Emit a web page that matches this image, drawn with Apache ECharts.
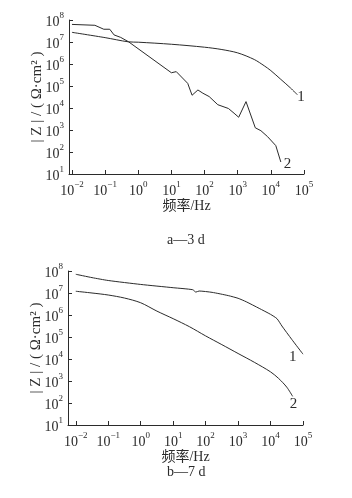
<!DOCTYPE html>
<html>
<head>
<meta charset="utf-8">
<title>|Z| - 频率</title>
<script src="https://cdn.jsdelivr.net/npm/echarts@6/dist/echarts.min.js"></script>
</head>
<body style="margin:0">
<div id="main" style="width:352px;height:498px;"></div>
<script type="text/javascript">
// a—3 d，曲线 1
var freqA1 = [0.01, 0.1, 0.5, 1, 10, 100, 316, 1000, 3160, 6300, 1e4, 2e4, 4e4, 6.3e4];
var zA1 = [2.75e7, 1.58e7, 1.02e7, 9.8e6, 7.9e6, 5.8e6, 4.6e6, 3.2e6, 1.6e6, 8.3e5, 5.0e5, 2.0e5, 7.9e4, 4.0e4];
// a—3 d，曲线 2
var freqA2 = [0.01, 0.049, 0.091, 0.138, 0.186, 0.295, 0.51, 10, 14, 31, 42, 63, 89, 138, 251, 525, 776, 1070, 1780, 3390, 5010, 7940, 1.41e4, 2.0e4];
var zA2 = [6.3e7, 5.75e7, 3.8e7, 3.8e7, 2.1e7, 1.62e7, 1.02e7, 4.0e5, 4.5e5, 1.32e5, 3.8e4, 6.6e4, 4.7e4, 3.3e4, 1.41e4, 9.5e3, 5.8e3, 3.8e3, 1.95e4, 1.26e3, 930, 500, 195, 35];
// b—7 d，曲线 1
var freqB1 = [0.01, 0.0316, 0.1, 1, 10, 40, 50, 63, 158, 500, 1000, 1780, 4470, 1e4, 1.58e4, 2.24e4, 4.47e4, 1e5];
var zB1 = [7.1e7, 5.0e7, 3.7e7, 2.45e7, 1.74e7, 1.41e7, 1.1e7, 1.23e7, 1.07e7, 7.6e6, 5.75e6, 4.0e6, 2.0e6, 1.07e6, 6.8e5, 3.16e5, 7.9e4, 1.66e4];
// b—7 d，曲线 2
var freqB2 = [0.01, 0.0316, 0.1, 0.316, 1, 3.16, 10, 31.6, 100, 316, 1000, 3160, 1e4, 1.78e4, 3.16e4, 4.8e4];
var zB2 = [1.2e7, 1.0e7, 8.1e6, 5.9e6, 3.6e6, 1.5e6, 6.8e5, 2.95e5, 1.12e5, 4.5e4, 1.78e4, 7.1e3, 2.6e3, 1.3e3, 525, 200];

var captions = ['a—3 d', 'b—7 d'];
var xName = '频率/Hz';
var yName = '| Z | / ( Ω·cm² )';

function zip(a, b) {
  return a.map(function (v, i) { return [v, b[i]]; });
}

var serif = '"Liberation Serif", "DejaVu Serif", "Noto Sans CJK SC", serif';
var ink = '#2b2b2b';

function powLabel(v) {
  var l = Math.log10(v);
  var e = Math.round(l);
  if (Math.abs(l - e) > 0.01) return '';
  return '{b|10}{s|' + (e < 0 ? '−' + (-e) : e) + '}';
}
var powRich = {
  b: { fontSize: 14, fontFamily: serif, color: ink, lineHeight: 18, verticalAlign: 'bottom' },
  s: { fontSize: 9, fontFamily: serif, color: ink, lineHeight: 18, verticalAlign: 'top' }
};

function xAxisOf(grid, minF) {
  return {
    type: 'log', gridIndex: grid, min: minF, max: 1e5,
    axisLine: { lineStyle: { color: ink, width: 1 } },
    axisTick: { inside: true, length: 4, lineStyle: { color: ink } },
    axisLabel: { formatter: powLabel, rich: powRich, margin: 6, interval: 0 },
    splitLine: { show: false },
    name: xName, nameLocation: 'middle', nameGap: 24,
    nameTextStyle: { fontFamily: serif, fontSize: 14, color: ink }
  };
}
function yAxisOf(grid) {
  return {
    type: 'log', gridIndex: grid, min: 10, max: 1e8,
    axisLine: { show: true, lineStyle: { color: ink, width: 1 } },
    axisTick: { show: true, inside: true, length: 4, lineStyle: { color: ink } },
    axisLabel: { formatter: powLabel, rich: powRich, margin: 5 },
    splitLine: { show: false },
    name: yName, nameLocation: 'middle', nameGap: 24, nameMoveOverlap: false,
    nameTextStyle: { fontFamily: serif, fontSize: 15, color: ink }
  };
}
function lineOf(grid, data, tag, smooth, offset) {
  return {
    type: 'line', xAxisIndex: grid, yAxisIndex: grid,
    data: data, symbol: 'none', smooth: smooth,
    lineStyle: { color: ink, width: 1 },
    endLabel: {
      show: true, formatter: tag, offset: offset,
      fontFamily: serif, fontSize: 15, color: ink
    }
  };
}

var myChart = echarts.init(document.getElementById('main'), null, { renderer: 'canvas' });
var option = {
  animation: false,
  backgroundColor: '#fff',
  grid: [
    { left: 69, top: 20, width: 235, height: 154 },
    { left: 68, top: 271, width: 235, height: 154 }
  ],
  xAxis: [xAxisOf(0, Math.pow(10, -2.09)), xAxisOf(1, Math.pow(10, -2.24))],
  yAxis: [yAxisOf(0), yAxisOf(1)],
  series: [
    lineOf(0, zip(freqA1, zA1), '1', 0.3, [-8, 2]),
    lineOf(0, zip(freqA2, zA2), '2', false, [-5, 2]),
    lineOf(1, zip(freqB1, zB1), '1', 0.2, [-22, 3]),
    lineOf(1, zip(freqB2, zB2), '2', 0.3, [-11, 8])
  ],
  graphic: [
    { type: 'text', left: 167, top: 233, style: { text: captions[0], font: '14px ' + serif, fill: ink } },
    { type: 'text', left: 167, top: 465, style: { text: captions[1], font: '14px ' + serif, fill: ink } }
  ]
};
myChart.setOption(option);
</script>
</body>
</html>
